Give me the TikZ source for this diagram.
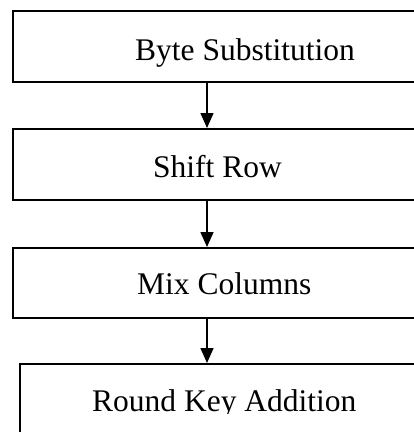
\documentclass[tikz,border=0pt]{standalone}
\usepackage{fontspec}
\setmainfont{Liberation Serif}
\usetikzlibrary{arrows.meta}
\begin{document}
\begin{tikzpicture}[x=1pt,y=-1pt,
  stage/.style={draw=black,line width=1.6pt,rectangle,inner sep=0pt,anchor=north west},
  lbl/.style={inner sep=0pt,anchor=base west,font=\fontsize{31.5}{36}\selectfont},
  flow/.style={line width=1.6pt,-{Triangle[width=13pt,length=15pt]}}]
  \useasboundingbox (0,0) rectangle (414,432);
  \clip (0,0) rectangle (414,432);
  % stage boxes (they run past the right and bottom edges)
  \node[stage,minimum width=440pt,minimum height=71pt] (b1) at (12,10) {};
  \node[stage,minimum width=440pt,minimum height=71pt] (b2) at (12,128) {};
  \node[stage,minimum width=440pt,minimum height=70pt] (b3) at (12,247) {};
  \node[stage,minimum width=440pt,minimum height=90pt] (b4) at (19,363) {};
  % labels
  \node[lbl] (t1) at (135,60) {Byte Substitution};
  \node[lbl] (t2) at (153,177) {Shift Row};
  \node[lbl] (t3) at (137,294) {Mix Columns};
  \begin{scope}
    \clip (0,0) rectangle (414,413);
    \node[lbl] (t4) at (92,411) {Round Key Addition};
  \end{scope}
  % arrows between stages
  \coordinate (ax) at (207,0);
  \draw[flow] (b1.south -| ax) -- (b2.north -| ax);
  \draw[flow] (b2.south -| ax) -- (b3.north -| ax);
  \draw[flow] (b3.south -| ax) -- (b4.north -| ax);
\end{tikzpicture}
\end{document}
